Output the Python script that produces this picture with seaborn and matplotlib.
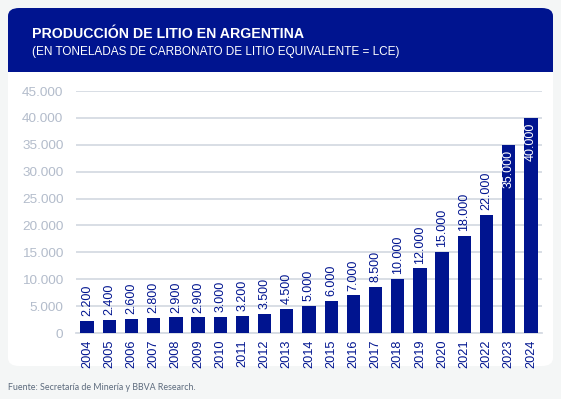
import matplotlib
matplotlib.use("Agg")
import matplotlib.pyplot as plt
import seaborn as sns
import pandas as pd
import numpy as np
from matplotlib.patches import FancyBboxPatch, Rectangle

years = [str(y) for y in range(2004, 2025)]
values = [2200, 2400, 2600, 2800, 2900, 2900, 3000, 3200, 3500, 4500, 5000,
          6000, 7000, 8500, 10000, 12000, 15000, 18000, 22000, 35000, 40000]
labels = ["2.200", "2.400", "2.600", "2.800", "2.900", "2.900", "3.000", "3.200",
          "3.500", "4.500", "5.000", "6.000", "7.000", "8.500", "10.000", "12.000",
          "15.000", "18.000", "22.000", "35.000", "40.000"]
yticks = [0, 5000, 10000, 15000, 20000, 25000, 30000, 35000, 40000, 45000]
ytick_labels = ["0", "5.000", "10.000", "15.000", "20.000", "25.000", "30.000",
                "35.000", "40.000", "45.000"]
title = "PRODUCCIÓN DE LITIO EN ARGENTINA"
subtitle = "(EN TONELADAS DE CARBONATO DE LITIO EQUIVALENTE = LCE)"
source = "Fuente: Secretaría de Minería y BBVA Research."

NAVY = "#00148f"
BG = "#f4f6f6"
W, H = 561, 399

sns.set_theme(style="white")
plt.rcParams['font.family'] = ['Liberation Sans', 'DejaVu Sans']

fig = plt.figure(figsize=(W / 100, H / 100), dpi=100)
fig.patch.set_facecolor(BG)

def fx(px):
    return px / W

def fy(py):
    return 1 - py / H

# white card
card = FancyBboxPatch((fx(8), fy(366)), fx(545), (366 - 8) / H,
                      boxstyle="round,pad=0,rounding_size=0.02",
                      transform=fig.transFigure, facecolor="white",
                      edgecolor="none", zorder=-2)
fig.patches.append(card)
# header
hdr = FancyBboxPatch((fx(8), fy(72)), fx(545), (72 - 8) / H,
                     boxstyle="round,pad=0,rounding_size=0.02",
                     transform=fig.transFigure, facecolor=NAVY,
                     edgecolor="none", zorder=-1)
fig.patches.append(hdr)
fig.patches.append(Rectangle((fx(8), fy(72)), fx(545), 30 / H,
                             transform=fig.transFigure, facecolor=NAVY,
                             edgecolor="none", zorder=-1))

fig.text(fx(32), fy(34), title, color="white", fontsize=10.2, fontweight="bold",
         va="center", ha="left", zorder=3)
fig.text(fx(32), fy(52), subtitle, color="white", fontsize=8.5,
         va="center", ha="left", zorder=3)
fig.text(fx(8), fy(388), source, color="#5d6b7d", fontsize=6.4,
         va="center", ha="left", family=["Lato", "DejaVu Sans"])

ax = fig.add_axes([fx(76), fy(333), fx(542 - 76), (333 - 91) / H])
ax.set_zorder(5)
ax.set_facecolor("none")
df = pd.DataFrame({"year": years, "value": values})
sns.barplot(data=df, x="year", y="value", color=NAVY, saturation=1,
            width=0.6, ax=ax, zorder=3)
for p in ax.patches:
    p.set_facecolor(NAVY)
    p.set_edgecolor("none")

ax.set_ylim(0, 45000)
ax.set_xlim(-0.5, len(years) - 0.5)
ax.set_yticks(yticks)
ax.set_yticklabels(ytick_labels)
ax.yaxis.grid(True, color="#d6dbe3", linewidth=1.3, zorder=0)
ax.xaxis.grid(False)
ax.set_axisbelow(True)
for s in ["top", "right", "left"]:
    ax.spines[s].set_visible(False)
ax.spines["bottom"].set_color("#d6dbe3")
ax.spines["bottom"].set_linewidth(1.3)
ax.set_xlabel("")
ax.set_ylabel("")
ax.tick_params(axis="y", length=0, pad=9, labelsize=9.7, labelcolor="#b3bccb")
ax.tick_params(axis="x", which="major", length=0, pad=5, labelsize=9.2,
               labelcolor=NAVY, labelrotation=90)
ax.set_xticks(np.arange(-0.5, len(years), 1), minor=True)
ax.tick_params(axis="x", which="minor", length=4, color="#d6dbe3", width=1.2)

for i, (v, lab) in enumerate(zip(values, labels)):
    if v >= 30000:
        ax.text(i, v - 900, lab, rotation=90, ha="center", va="top",
                color="white", fontsize=9, zorder=5)
    else:
        ax.text(i, v + 900, lab, rotation=90, ha="center", va="bottom",
                color=NAVY, fontsize=9, zorder=5)

fig.savefig("out.png", dpi=100, facecolor=BG)
